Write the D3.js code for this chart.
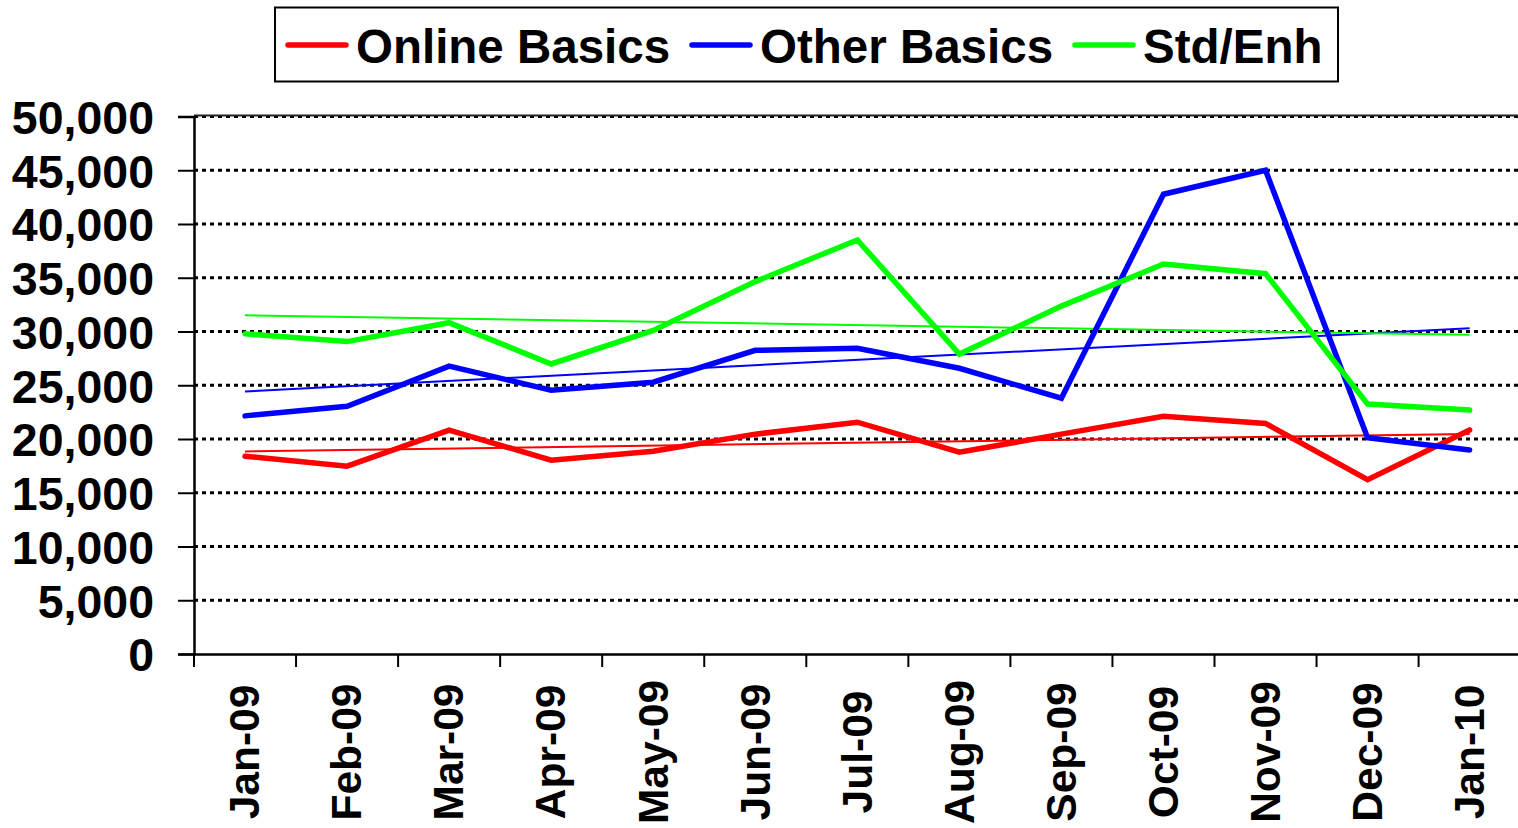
<!DOCTYPE html>
<html>
<head>
<meta charset="utf-8">
<script src="https://cdn.jsdelivr.net/npm/d3@7"></script>
<style>
  html, body { margin: 0; padding: 0; background: #fff; }
  svg { display: block; font-family: Arial, "Liberation Sans", sans-serif; font-weight: bold; }
</style>
</head>
<body>
<svg id="chart" width="1518" height="828"></svg>
<script>
const months = ["Jan-09","Feb-09","Mar-09","Apr-09","May-09","Jun-09","Jul-09","Aug-09","Sep-09","Oct-09","Nov-09","Dec-09","Jan-10"];
const onlineBasics = [18400,17470,20820,18030,18870,20450,21560,18770,20450,22120,21450,16220,20840];
const otherBasics  = [22150,23050,26780,24540,25280,28250,28440,26580,23790,42770,45000,20120,18980];
const stdEnh       = [29780,29060,30820,26980,30100,34640,38520,27900,32360,36280,35380,23250,22700];
const yTicks = [0,5000,10000,15000,20000,25000,30000,35000,40000,45000,50000];
const seriesNames = ["Online Basics","Other Basics","Std/Enh"];
const seriesColors = ["#ff0000","#0000ff","#00ff00"];

(function () {
const svg = d3.select("#chart");
const plotLeft = 194, plotTop = 116.5, plotBottom = 654, bandW = 102.05;
const plotRight = plotLeft + bandW * months.length;

const x = d3.scaleBand().domain(months).range([plotLeft, plotRight]).paddingInner(0).paddingOuter(0);
const y = d3.scaleLinear().domain([0, 50000]).range([plotBottom, plotTop]);
const cx = m => x(m) + x.bandwidth() / 2;

// gridlines
svg.append("g").selectAll("line").data(yTicks.filter(d => d > 0)).join("line")
  .attr("x1", plotLeft).attr("x2", 1518)
  .attr("y1", d => y(d)).attr("y2", d => y(d))
  .attr("stroke", "#000").attr("stroke-width", 3).attr("stroke-dasharray", "4,4");
// top border
svg.append("line").attr("x1", plotLeft).attr("x2", 1518).attr("y1", plotTop - 1).attr("y2", plotTop - 1)
  .attr("stroke", "#222").attr("stroke-width", 2);

// y axis
const yAxis = d3.axisLeft(y).tickValues(yTicks).tickSize(16).tickPadding(24)
  .tickFormat(d3.format(","));
const gy = svg.append("g").attr("transform", `translate(${plotLeft},0)`).call(yAxis);
gy.select(".domain").attr("stroke", "#000").attr("stroke-width", 2.5);
gy.selectAll(".tick line").attr("stroke", "#000").attr("stroke-width", 2);
gy.selectAll(".tick text").attr("font-size", 46.5).attr("font-weight", "bold")
  .attr("font-family", 'Arial, "Liberation Sans", sans-serif').attr("fill", "#000").attr("dy", "0.36em");

// x axis
const xAxis = d3.axisBottom(x).tickSize(0).tickFormat("");
const gx = svg.append("g").attr("transform", `translate(0,${plotBottom})`).call(xAxis);
gx.select(".domain").attr("stroke", "#000").attr("stroke-width", 2.5);
gx.selectAll(".tick").remove();
// tick marks at band boundaries
svg.append("g").selectAll("line").data(d3.range(months.length + 1)).join("line")
  .attr("x1", i => plotLeft + i * x.step()).attr("x2", i => plotLeft + i * x.step())
  .attr("y1", plotBottom).attr("y2", plotBottom + 13)
  .attr("stroke", "#000").attr("stroke-width", 2);
// x labels
svg.append("g").selectAll("text").data(months).join("text")
  .attr("transform", d => `translate(${cx(d) - 1},752) rotate(-90)`)
  .attr("text-anchor", "middle").attr("dy", "0.36em")
  .attr("font-size", 42.5).attr("fill", "#000").text(d => d);

// series
const allSeries = [onlineBasics, otherBasics, stdEnh];
const line = d3.line().x((d, i) => cx(months[i])).y(d => y(d));

// linear trendlines (least squares on the series values)
allSeries.forEach((vals, k) => {
  const n = vals.length;
  const xs = d3.range(n);
  const mx = d3.mean(xs), my = d3.mean(vals);
  const b = d3.sum(xs, i => (i - mx) * (vals[i] - my)) / d3.sum(xs, i => (i - mx) ** 2);
  const a = my - b * mx;
  svg.append("line")
    .attr("x1", cx(months[0])).attr("x2", cx(months[n - 1]))
    .attr("y1", y(a)).attr("y2", y(a + b * (n - 1)))
    .attr("stroke", seriesColors[k]).attr("stroke-width", 2);
});

allSeries.forEach((vals, k) => {
  svg.append("path").datum(vals)
    .attr("d", line).attr("fill", "none")
    .attr("stroke", seriesColors[k]).attr("stroke-width", 5.5)
    .attr("stroke-linejoin", "miter").attr("stroke-linecap", "round");
});

// legend
const lg = svg.append("g");
lg.append("rect").attr("x", 275).attr("y", 7.5).attr("width", 1063).attr("height", 74)
  .attr("fill", "#fff").attr("stroke", "#000").attr("stroke-width", 2);
const legendStarts = [288, 692, 1075];
seriesNames.forEach((name, k) => {
  const s = legendStarts[k];
  lg.append("line").attr("x1", s).attr("x2", s + 58).attr("y1", 45).attr("y2", 45)
    .attr("stroke", seriesColors[k]).attr("stroke-width", 5.5).attr("stroke-linecap", "round");
  lg.append("text").attr("x", s + 68).attr("y", 63)
    .attr("font-size", 47.5).attr("fill", "#000").text(name);
});
})();
</script>
</body>
</html>
